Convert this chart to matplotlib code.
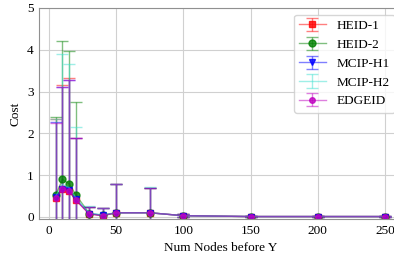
import matplotlib
matplotlib.use("Agg")
import matplotlib.pyplot as plt
from matplotlib.colors import to_rgba

num_nodes = [5, 10, 15, 20, 30, 40, 50, 75, 100, 150, 200, 250]

heid1_mean = [0.45, 0.66, 0.62, 0.40, 0.07, 0.03, 0.10, 0.10, 0.03, 0.01, 0.01, 0.01]
heid1_err = [1.90, 2.50, 2.70, 1.50, 0.18, 0.18, 0.68, 0.60, 0.03, 0.01, 0.01, 0.01]
heid2_mean = [0.52, 0.90, 0.79, 0.53, 0.08, 0.04, 0.10, 0.10, 0.03, 0.01, 0.01, 0.01]
heid2_err = [1.86, 3.30, 3.18, 2.22, 0.17, 0.17, 0.68, 0.60, 0.03, 0.01, 0.01, 0.01]
mcip1_mean = [0.47, 0.68, 0.64, 0.42, 0.08, 0.04, 0.10, 0.10, 0.03, 0.01, 0.01, 0.01]
mcip1_err = [1.80, 2.44, 2.64, 1.48, 0.17, 0.18, 0.68, 0.60, 0.03, 0.01, 0.01, 0.01]
mcip2_mean = [0.50, 0.78, 0.70, 0.45, 0.09, 0.05, 0.10, 0.10, 0.03, 0.01, 0.01, 0.01]
mcip2_err = [1.85, 3.12, 2.96, 1.70, 0.18, 0.17, 0.68, 0.62, 0.03, 0.01, 0.01, 0.01]
edge_mean = [0.45, 0.66, 0.62, 0.40, 0.07, 0.03, 0.10, 0.10, 0.03, 0.01, 0.01, 0.01]
edge_err = [1.80, 2.46, 2.66, 1.50, 0.18, 0.19, 0.68, 0.60, 0.03, 0.01, 0.01, 0.01]

series = [
    ("HEID-1", heid1_mean, heid1_err, "red", "s"),
    ("HEID-2", heid2_mean, heid2_err, "green", "o"),
    ("MCIP-H1", mcip1_mean, mcip1_err, "blue", "v"),
    ("MCIP-H2", mcip2_mean, mcip2_err, "turquoise", ""),
    ("EDGEID", edge_mean, edge_err, "m", "o"),
]

plt.rcParams["font.family"] = ["Liberation Serif", "DejaVu Serif"]
plt.rcParams["font.size"] = 9.5

fig = plt.figure(figsize=(3.94, 2.58), dpi=100)
ax = fig.add_axes([0.0997, 0.151, 0.919, 0.818])

for label, mean, err, color, marker in series:
    line_c = to_rgba(color, 0.5)
    mark_c = to_rgba(color, 0.8)
    ax.errorbar(num_nodes, mean, yerr=err, label=label, color=line_c,
                ecolor=line_c, marker=marker, markersize=5 if marker != "o" or label != "EDGEID" else 4,
                mfc=mark_c, mec=mark_c, capsize=4, lw=1)

ax.set_ylim(-0.05, 5)
ax.set_yticks([0, 1, 2, 3, 4, 5])
ax.set_xticks([0, 50, 100, 150, 200, 250])
ax.grid(True, color="#d0d0d0", lw=0.8)
ax.set_axisbelow(True)
ax.tick_params(length=0, pad=4)
for sp in ax.spines.values():
    sp.set_color("#909090")
ax.set_xlabel("Num Nodes before Y")
ax.set_ylabel("Cost")
ax.legend(loc="upper right", fontsize=9.5)

fig.savefig("out.png", dpi=100)
